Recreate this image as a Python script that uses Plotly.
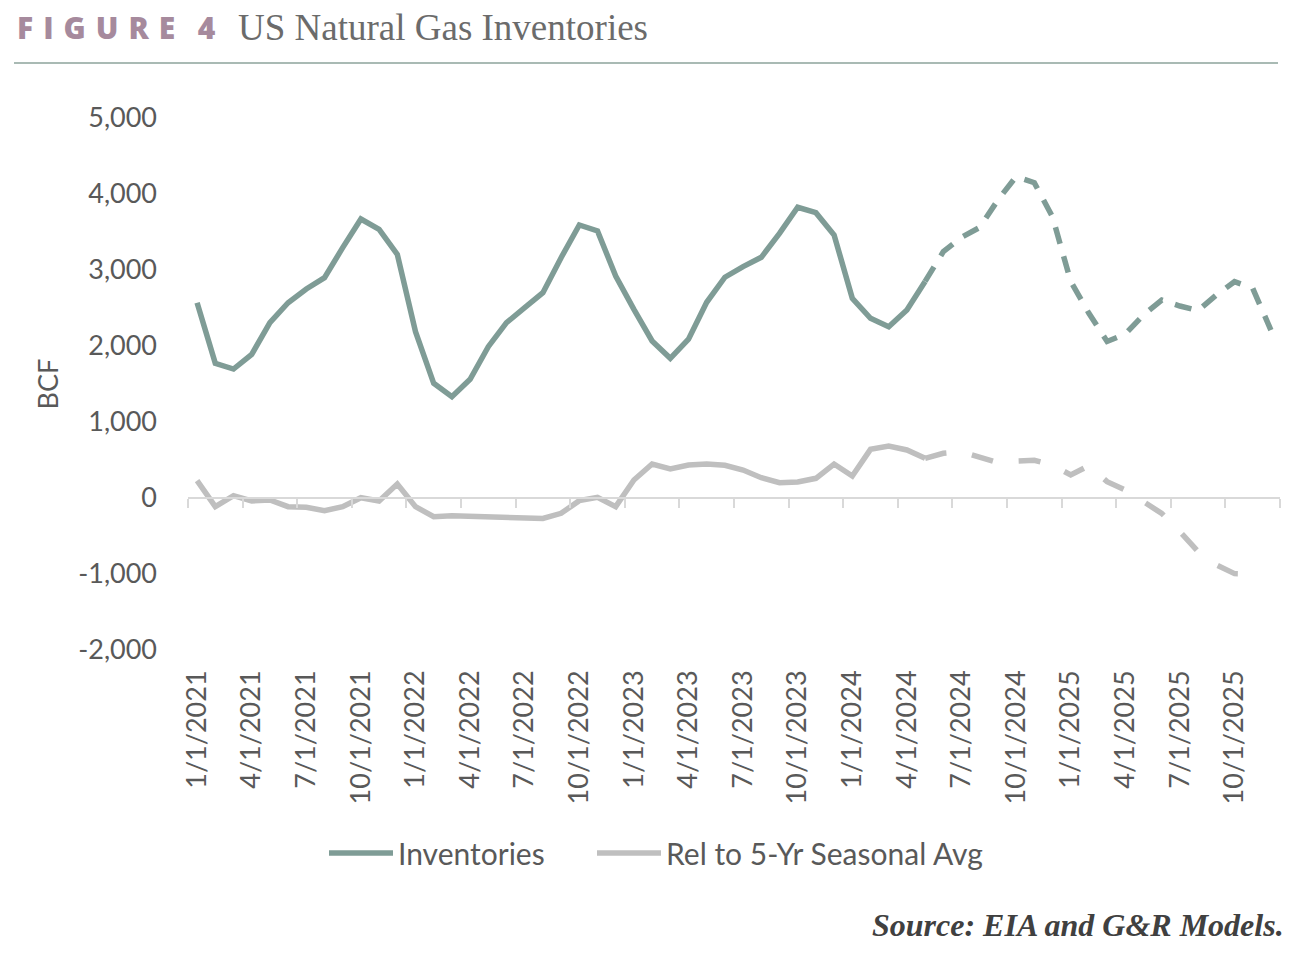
import plotly.graph_objects as go

# ---------------- data ----------------
months = [f"{m}/1/{y}" for y in range(2021, 2026) for m in range(1, 13)]

inventories = [
    2570, 1772, 1697, 1890, 2307, 2570, 2750, 2899, 3294, 3671, 3535, 3206,
    2189, 1509, 1333, 1561, 1991, 2307, 2504, 2702, 3162, 3592, 3513, 2921,
    2482, 2066, 1838, 2090, 2575, 2905, 3044, 3167, 3482, 3825, 3754, 3461,
    2627, 2364, 2254, 2474, 2850, 3241, 3430, 3560, 3921, 4228, 4149, 3700,
    2850, 2430, 2060, 2158, 2408, 2605, 2526, 2465, 2671, 2846, 2759, 2210,
]

rel_5yr = [
    228, -114, 30, -39, -26, -114, -123, -167, -114, 4, -39, 184,
    -114, -246, -232, -240, -250, -258, -262, -270, -202, -35, 9, -114,
    237, 447, 382, 434, 447, 430, 368, 267, 202, 211, 259, 447,
    289, 640, 684, 632, 522, 588, 610, 539, 465, 487, 496, 434,
    303, 425, 215, 105, -48, -202, -443, -706, -880, -995, -1000, None,
]

forecast_start = 40  # first month of the dashed (projected) section

x_tick_labels = months[::3]
y_tick_values = [-2000, -1000, 0, 1000, 2000, 3000, 4000, 5000]
y_tick_labels = ["-2,000", "-1,000", "0", "1,000", "2,000", "3,000", "4,000", "5,000"]

# ---------------- styling ----------------
INV_COLOR = "#7F9C96"
REL_COLOR = "#BFBFBF"
AXIS_COLOR = "#D9D9D9"
TEXT_COLOR = "#595959"
SANS = "Lato"
SERIF = "Liberation Serif"

# the page body adds an 8px margin; the figure is sized/positioned to compensate
OFF = 8
W, H = 1302 - OFF, 954 - 2 * OFF
PL, PR, PT, PB = 188, 1280, 118, 650          # plot area in page pixels
PW, PH = PR - PL, PB - PT


def px(xp):
    return (xp - PL) / PW


def py(yp):
    return (PB - yp) / PH


idx = list(range(len(months)))
fs = forecast_start

fig = go.Figure()

fig.add_trace(go.Scatter(
    x=idx[: fs + 1], y=inventories[: fs + 1], mode="lines", name="Inventories",
    line=dict(color=INV_COLOR, width=5.5), legendgroup="inv", legend="legend",
))
fig.add_trace(go.Scatter(
    x=idx[fs:], y=inventories[fs:], mode="lines", name="Inventories",
    line=dict(color=INV_COLOR, width=5.5, dash="17px,13px"),
    legendgroup="inv", showlegend=False,
))
fig.add_trace(go.Scatter(
    x=idx[: fs + 1], y=rel_5yr[: fs + 1], mode="lines", name="Rel to 5-Yr Seasonal Avg",
    line=dict(color=REL_COLOR, width=5.5), legendgroup="rel", xaxis="x2", legend="legend2",
))
fig.add_trace(go.Scatter(
    x=idx[fs:], y=rel_5yr[fs:], mode="lines", name="Rel to 5-Yr Seasonal Avg",
    line=dict(color=REL_COLOR, width=5.5, dash="22px,26px"),
    legendgroup="rel", showlegend=False, xaxis="x2",
))

y_min, y_max = -2000, 5000
zero_pos = (0 - y_min) / (y_max - y_min)
n = len(months)
boundaries = [i - 0.5 for i in range(0, n + 1, 3)]

legend_common = dict(
    orientation="h", yanchor="middle", y=py(853), xanchor="left",
    font=dict(size=30, color=TEXT_COLOR, family=SANS),
    bgcolor="rgba(0,0,0,0)", itemwidth=64,
)

fig.update_layout(
    width=W, height=H,
    margin=dict(l=PL - OFF, r=W - (PR - OFF), t=PT - OFF, b=H - (PB - OFF)),
    paper_bgcolor="white", plot_bgcolor="white",
    font=dict(family=SANS, color=TEXT_COLOR),
    xaxis=dict(
        range=[-0.5, n - 0.5], tickmode="array",
        tickvals=idx[::3], ticktext=x_tick_labels,
        tickangle=-90, tickfont=dict(size=27, color=TEXT_COLOR, family=SANS),
        showline=False, showgrid=False, zeroline=False, ticks="",
        ticklabelstandoff=14,
    ),
    xaxis2=dict(
        matches="x", overlaying="x", anchor="free", position=zero_pos,
        showline=True, linecolor=AXIS_COLOR, linewidth=2,
        ticks="outside", ticklen=9, tickwidth=2, tickcolor=AXIS_COLOR,
        tickmode="array", tickvals=boundaries, showticklabels=False,
        showgrid=False, zeroline=False,
    ),
    yaxis=dict(
        range=[y_min, y_max], tickmode="array",
        tickvals=y_tick_values, ticktext=y_tick_labels,
        tickfont=dict(size=27, color=TEXT_COLOR, family=SANS),
        showline=False, showgrid=False, zeroline=False, ticks="",
        ticklabelstandoff=30,
        title=dict(text="BCF", font=dict(size=27, color=TEXT_COLOR, family=SANS), standoff=11),
    ),
    legend=dict(legend_common, x=px(324)),
    legend2=dict(legend_common, x=px(592)),
    showlegend=True,
)

# title
fig.add_annotation(
    text="F\u2004I\u2004G\u2004U\u2004R\u2004E\u2002\u20054", xref="paper", yref="paper",
    x=px(15), y=py(28), xanchor="left", yanchor="middle",
    showarrow=False, font=dict(family="Open Sans", size=30, color="#A68A9D", weight=800),
)
fig.add_annotation(
    text="US Natural Gas Inventories", xref="paper", yref="paper",
    x=px(236), y=py(28), xanchor="left", yanchor="middle",
    showarrow=False, font=dict(family=SERIF, size=37, color="#6B6B6B"),
)
fig.add_shape(
    type="line", xref="paper", yref="paper",
    x0=px(14), x1=px(1278), y0=py(63), y1=py(63),
    line=dict(color="#A9BAB4", width=2),
)
fig.add_annotation(
    text="Source: EIA and G&amp;R Models.", xref="paper", yref="paper",
    x=px(1286), y=py(925), xanchor="right", yanchor="middle",
    showarrow=False,
    font=dict(family=SERIF, size=32, color="#404040", style="italic", weight="bold"),
)

fig.write_html("out.html")
